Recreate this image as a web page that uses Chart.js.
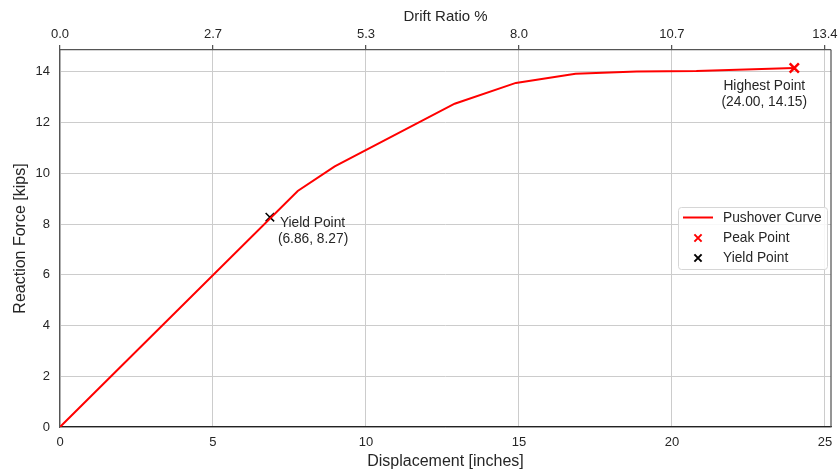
<!DOCTYPE html>
<html>
<head>
<meta charset="utf-8">
<script src="https://cdn.jsdelivr.net/npm/chart.js@4/dist/chart.umd.min.js"></script>
<style>
  html, body { margin: 0; padding: 0; background: #ffffff; }
  #wrap { width: 840px; height: 473px; position: relative; }
</style>
</head>
<body>
<div id="wrap"><canvas id="c" width="840" height="473"></canvas></div>
<script>
// ---- data ----
const displacement = [0, 7.77, 8.98, 12.9, 14.9, 16.85, 18.85, 20.8, 24.0];
const reactionForce = [0, 9.3, 10.27, 12.74, 13.56, 13.92, 14.01, 14.03, 14.15];
const yieldPoint = [6.86, 8.27];
const peakPoint = [24.0, 14.15];
const xTicks = [0, 5, 10, 15, 20, 25];
const yTicks = [0, 2, 4, 6, 8, 10, 12, 14];
const driftTickLabels = ['0.0', '2.7', '5.3', '8.0', '10.7', '13.4'];
const xMax = 25.2;
const yMax = 14.8575;

const FONT = '"Liberation Sans", Arial, sans-serif';
const TXT = '#262626';

const annotationsAndLegend = {
  id: 'annLeg',
  afterDraw(chart) {
    const ctx = chart.ctx;
    const xs = chart.scales.x, ys = chart.scales.y;
    const area = chart.chartArea;
    ctx.save();
    // right spine
    ctx.strokeStyle = '#555';
    ctx.lineWidth = 1.25;
    ctx.beginPath();
    ctx.moveTo(area.right, area.top);
    ctx.lineTo(area.right, area.bottom);
    ctx.stroke();

    // annotations
    ctx.fillStyle = TXT;
    ctx.font = '13.75px ' + FONT;
    ctx.textBaseline = 'middle';
    const yx = xs.getPixelForValue(yieldPoint[0]);
    const yy = ys.getPixelForValue(yieldPoint[1]);
    ctx.textAlign = 'left';
    ctx.fillText('Yield Point', yx + 10, yy + 6);
    ctx.fillText('(' + yieldPoint[0].toFixed(2) + ', ' + yieldPoint[1].toFixed(2) + ')', yx + 8, yy + 22);
    const px = xs.getPixelForValue(peakPoint[0]);
    const py = ys.getPixelForValue(peakPoint[1]);
    ctx.textAlign = 'center';
    ctx.fillText('Highest Point', px - 30, py + 18);
    ctx.fillText('(' + peakPoint[0].toFixed(2) + ', ' + peakPoint[1].toFixed(2) + ')', px - 30, py + 34);

    // legend
    const lx = 678, ly = 207, lw = 149, lh = 62;
    ctx.fillStyle = 'rgba(255,255,255,0.85)';
    ctx.strokeStyle = '#d6d6d6';
    ctx.lineWidth = 1;
    ctx.beginPath();
    ctx.roundRect(lx + 0.5, ly + 0.5, lw, lh, 3);
    ctx.fill();
    ctx.stroke();
    const ds = chart.data.datasets;
    const rows = [217.5, 238, 258];
    ctx.textAlign = 'left';
    ctx.font = '13.75px ' + FONT;
    ds.forEach((d, i) => {
      const ry = rows[i];
      if (d.type === 'line' && d.showLine !== false) {
        ctx.strokeStyle = d.borderColor;
        ctx.lineWidth = 2;
        ctx.beginPath();
        ctx.moveTo(683, ry);
        ctx.lineTo(713, ry);
        ctx.stroke();
      } else {
        ctx.strokeStyle = d.borderColor;
        ctx.lineWidth = 2;
        const s = 3.6;
        ctx.beginPath();
        ctx.moveTo(698 - s, ry - s); ctx.lineTo(698 + s, ry + s);
        ctx.moveTo(698 - s, ry + s); ctx.lineTo(698 + s, ry - s);
        ctx.stroke();
      }
      ctx.fillStyle = TXT;
      ctx.fillText(d.label, 723, ry + 0.5);
    });
    ctx.restore();
  }
};

new Chart(document.getElementById('c'), {
  data: {
    datasets: [
      {
        type: 'line',
        label: 'Pushover Curve',
        data: displacement.map((x, i) => ({ x: x, y: reactionForce[i] })),
        borderColor: '#ff0000',
        backgroundColor: '#ff0000',
        borderWidth: 2,
        pointRadius: 0,
        tension: 0,
        fill: false,
        order: 1
      },
      {
        type: 'scatter',
        label: 'Peak Point',
        data: [{ x: peakPoint[0], y: peakPoint[1] }],
        borderColor: '#ff0000',
        backgroundColor: '#ff0000',
        pointStyle: 'crossRot',
        pointRadius: 6.5,
        borderWidth: 2.5,
        order: 0
      },
      {
        type: 'scatter',
        label: 'Yield Point',
        data: [{ x: yieldPoint[0], y: yieldPoint[1] }],
        borderColor: '#000000',
        backgroundColor: '#000000',
        pointStyle: 'crossRot',
        pointRadius: 6,
        borderWidth: 1.5,
        order: 2
      }
    ]
  },
  options: {
    responsive: false,
    animation: false,
    devicePixelRatio: 1,
    layout: { padding: { left: 0, right: 6, top: 0, bottom: 0 } },
    plugins: { legend: { display: false }, tooltip: { enabled: false } },
    scales: {
      x: {
        type: 'linear',
        position: 'bottom',
        min: 0, max: xMax,
        afterBuildTicks: (s) => { s.ticks = xTicks.map(v => ({ value: v })); },
        afterFit: (s) => { s.height = 46; s.paddingLeft = 0; s.paddingRight = 0; },
        grid: { color: '#cccccc', lineWidth: 1, drawTicks: false },
        border: { display: true, color: '#222', width: 1.25 },
        ticks: { color: TXT, font: { family: FONT, size: 13 }, padding: 8, maxRotation: 0,
                 callback: (v) => String(v) },
        title: { display: true, text: 'Displacement [inches]', color: TXT,
                 font: { family: FONT, size: 16 }, padding: { top: 0, bottom: 2 } }
      },
      x2: {
        type: 'linear',
        position: 'top',
        min: 0, max: xMax,
        afterBuildTicks: (s) => { s.ticks = xTicks.map(v => ({ value: v })); },
        afterFit: (s) => { s.height = 50; s.paddingLeft = 0; s.paddingRight = 0; },
        grid: { drawOnChartArea: false, drawTicks: true, tickLength: 5, color: '#555', lineWidth: 1.25 },
        border: { display: true, color: '#555', width: 1.25 },
        ticks: { color: TXT, font: { family: FONT, size: 13 }, padding: 3, maxRotation: 0,
                 callback: (v, i) => driftTickLabels[i] },
        title: { display: true, text: 'Drift Ratio %', color: TXT,
                 font: { family: FONT, size: 15 }, padding: { top: 8, bottom: 0 } }
      },
      y: {
        type: 'linear',
        position: 'left',
        min: 0, max: yMax,
        afterBuildTicks: (s) => { s.ticks = yTicks.map(v => ({ value: v })); },
        afterFit: (s) => { s.width = 60; s.paddingTop = 0; s.paddingBottom = 0; },
        grid: { color: '#cccccc', lineWidth: 1, drawTicks: false },
        border: { display: true, color: '#555', width: 1.25 },
        ticks: { color: TXT, font: { family: FONT, size: 13 }, padding: 10,
                 callback: (v) => String(v) },
        title: { display: true, text: 'Reaction Force [kips]', color: TXT,
                 font: { family: FONT, size: 16 }, padding: { top: 11, bottom: 0 } }
      }
    }
  },
  plugins: [annotationsAndLegend]
});
</script>
</body>
</html>
